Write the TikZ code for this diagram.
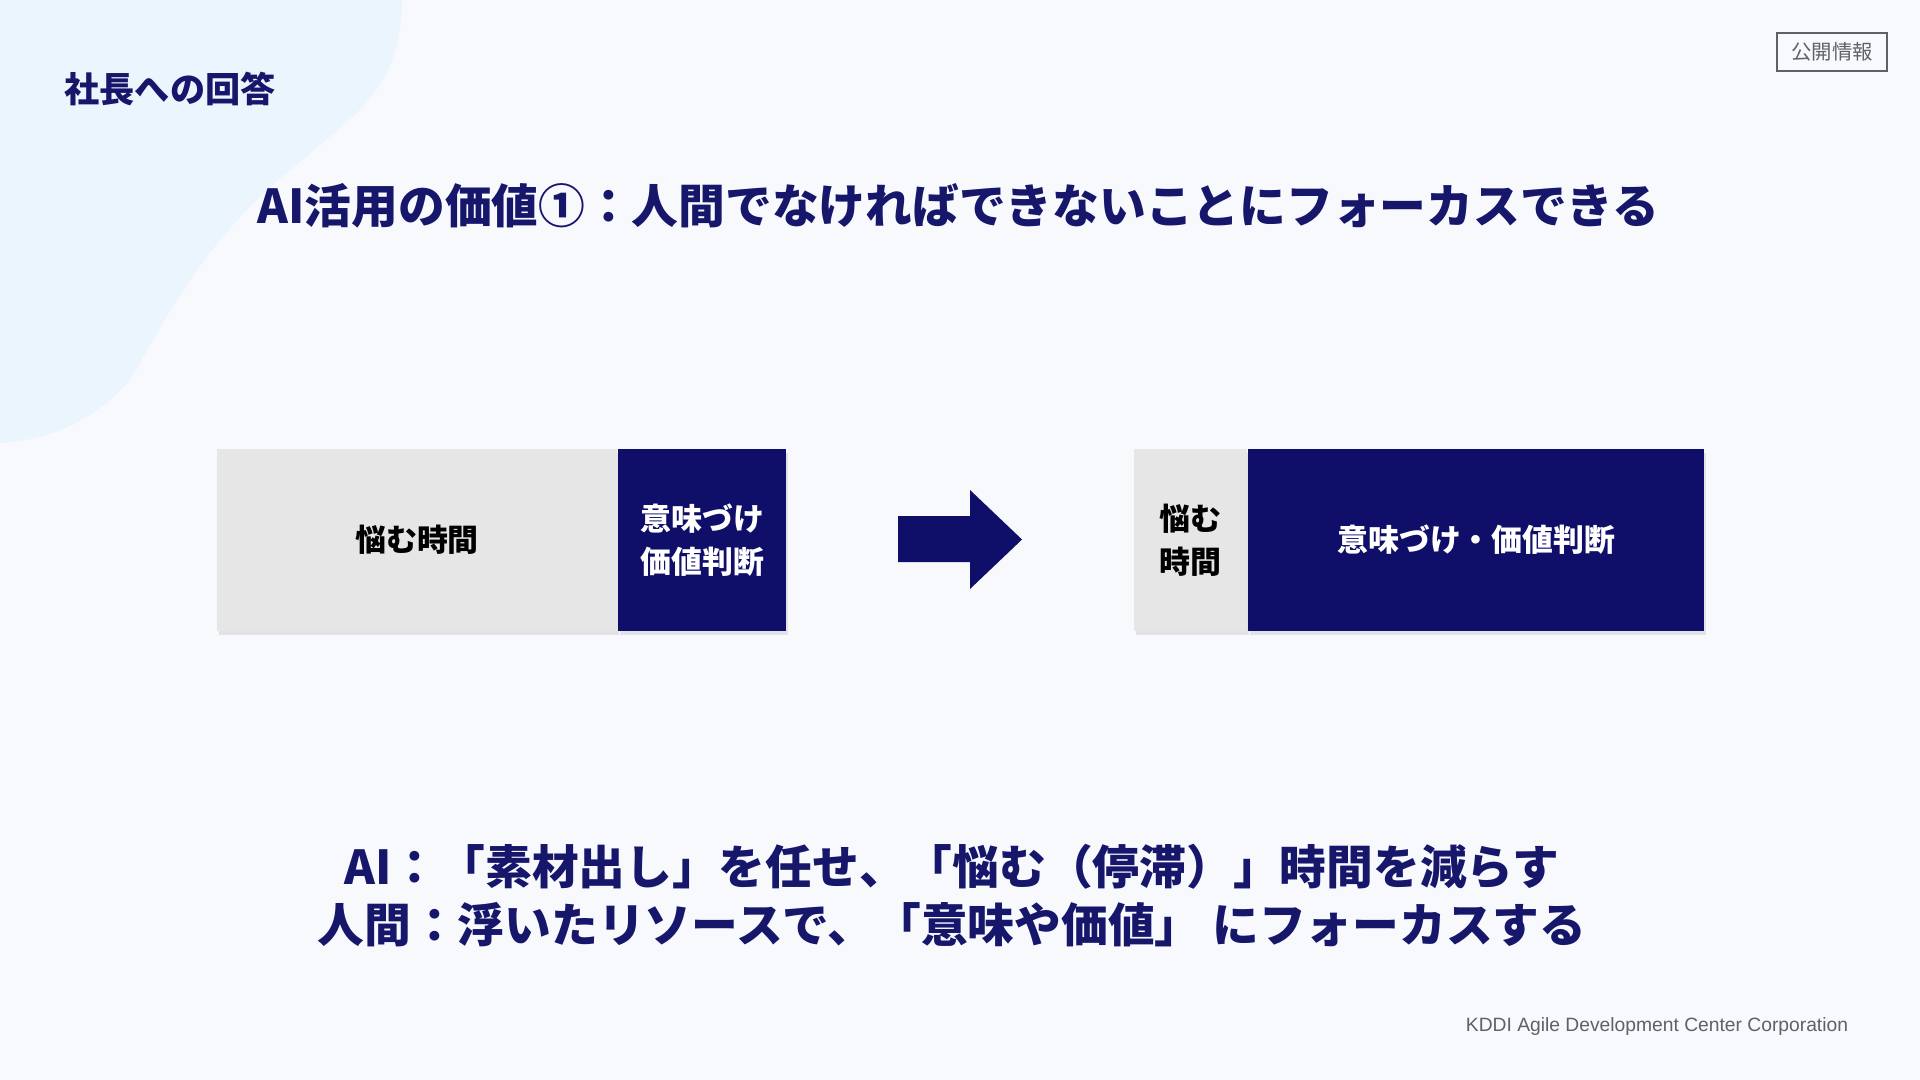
\documentclass[tikz,border=0pt]{standalone}
\usepackage{fontspec}
\setmainfont{Noto Sans CJK JP}
\newfontfamily\latinfont{Liberation Sans}
\usetikzlibrary{positioning, shadows}
\definecolor{pagebg}{HTML}{F7F9FD}
\definecolor{blobblue}{HTML}{EAF5FD}
\definecolor{navy}{HTML}{0F0E69}
\definecolor{navytext}{HTML}{16166B}
\definecolor{boxgray}{HTML}{E6E6E6}
\definecolor{labelgray}{HTML}{5F6166}

\begin{document}
\begin{tikzpicture}[every node/.style={inner sep=0pt},
    greybox/.style={fill=boxgray, minimum height=1.82cm, align=center,
        font=\fontsize{8.8}{12.2}\selectfont\bfseries,
        drop shadow={opacity=0.18, shadow xshift=0.02cm, shadow yshift=-0.04cm}},
    navybox/.style={greybox, fill=navy, text=white},
    heading/.style={text=navytext, font=\fontsize{13.3}{16.5}\selectfont\bfseries}]
    \useasboundingbox (0,0) rectangle (19.2,-10.8);
    \fill[pagebg] (0,0) rectangle (19.2,-10.8);
    \fill[blobblue] (0,0) -- (4.02,0) .. controls (4.0,-0.9) and (3.6,-1.1) .. (2.9,-1.7)
        .. controls (2.1,-2.35) and (1.7,-3.1) .. (1.3,-3.8)
        .. controls (0.9,-4.25) and (0.45,-4.4) .. (0,-4.43) -- cycle;

    \node[heading, font=\fontsize{10}{12}\selectfont\bfseries, anchor=west] (section) at (0.64,-0.89) {社長への回答};
    \node[draw=labelgray, line width=0.6pt, minimum width=1.10cm, minimum height=0.38cm,
        text=labelgray, font=\fontsize{5.8}{7}\selectfont] (public) at (18.32,-0.52) {公開情報};
    \node[heading] (title) at (9.585,-2.06) {AI活用の価値①：人間でなければできないことにフォーカスできる};

    \node[greybox, minimum width=4.00cm] (worry) at (4.17,-5.40) {悩む時間};
    \node[navybox, minimum width=1.68cm, right=0pt of worry] (meaning) {意味づけ\\価値判断};

    \node[greybox, minimum width=1.13cm] (worrysmall) at (11.905,-5.40) {悩む\\時間};
    \node[navybox, minimum width=4.56cm, right=0pt of worrysmall] (meaningbig) {意味づけ・価値判断};

    \fill[navy] (8.98,-5.16) -- (9.70,-5.16) -- (9.70,-4.90) -- (10.22,-5.395)
        -- (9.70,-5.89) -- (9.70,-5.62) -- (8.98,-5.62) -- cycle;

    \node[heading, align=center] (summary) at (9.52,-8.96)
        {AI：「素材出し」を任せ、「悩む（停滞）」時間を減らす\\人間：浮いたリソースで、「意味や価値」 にフォーカスする};

    \node[text=labelgray, font=\latinfont\fontsize{5.48}{7}\selectfont] (footer) at (16.57,-10.27)
        {KDDI Agile Development Center Corporation};
\end{tikzpicture}
\end{document}
